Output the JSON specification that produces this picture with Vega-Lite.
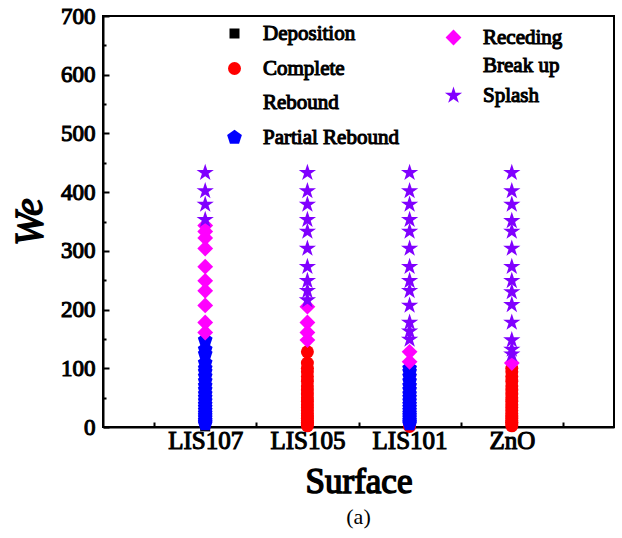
{
  "$schema": "https://vega.github.io/schema/vega-lite/v6.json",
  "width": 511,
  "height": 411,
  "autosize": {"type": "none"},
  "padding": {"left": 103, "top": 16, "right": 8, "bottom": 111},
  "background": "white",
  "title": {"text": "(a)", "orient": "bottom", "font": "Liberation Serif", "fontSize": 22, "fontWeight": "normal", "color": "black", "offset": 8, "anchor": "middle"},
  "data": {"values": [
    {"Surface": "LIS107", "Regime": "Deposition", "We": 1},
    {"Surface": "LIS105", "Regime": "Complete Rebound", "We": 128},
    {"Surface": "LIS105", "Regime": "Complete Rebound", "We": 109},
    {"Surface": "LIS105", "Regime": "Complete Rebound", "We": 100},
    {"Surface": "LIS105", "Regime": "Complete Rebound", "We": 94},
    {"Surface": "LIS105", "Regime": "Complete Rebound", "We": 86},
    {"Surface": "LIS105", "Regime": "Complete Rebound", "We": 78},
    {"Surface": "LIS105", "Regime": "Complete Rebound", "We": 70},
    {"Surface": "LIS105", "Regime": "Complete Rebound", "We": 63},
    {"Surface": "LIS105", "Regime": "Complete Rebound", "We": 56},
    {"Surface": "LIS105", "Regime": "Complete Rebound", "We": 50},
    {"Surface": "LIS105", "Regime": "Complete Rebound", "We": 44},
    {"Surface": "LIS105", "Regime": "Complete Rebound", "We": 38},
    {"Surface": "LIS105", "Regime": "Complete Rebound", "We": 33},
    {"Surface": "LIS105", "Regime": "Complete Rebound", "We": 28},
    {"Surface": "LIS105", "Regime": "Complete Rebound", "We": 23},
    {"Surface": "LIS105", "Regime": "Complete Rebound", "We": 19},
    {"Surface": "LIS105", "Regime": "Complete Rebound", "We": 15},
    {"Surface": "LIS105", "Regime": "Complete Rebound", "We": 11},
    {"Surface": "LIS105", "Regime": "Complete Rebound", "We": 8},
    {"Surface": "LIS105", "Regime": "Complete Rebound", "We": 5},
    {"Surface": "LIS105", "Regime": "Complete Rebound", "We": 2},
    {"Surface": "LIS101", "Regime": "Complete Rebound", "We": 1},
    {"Surface": "ZnO", "Regime": "Complete Rebound", "We": 100},
    {"Surface": "ZnO", "Regime": "Complete Rebound", "We": 94},
    {"Surface": "ZnO", "Regime": "Complete Rebound", "We": 86},
    {"Surface": "ZnO", "Regime": "Complete Rebound", "We": 78},
    {"Surface": "ZnO", "Regime": "Complete Rebound", "We": 70},
    {"Surface": "ZnO", "Regime": "Complete Rebound", "We": 63},
    {"Surface": "ZnO", "Regime": "Complete Rebound", "We": 56},
    {"Surface": "ZnO", "Regime": "Complete Rebound", "We": 50},
    {"Surface": "ZnO", "Regime": "Complete Rebound", "We": 44},
    {"Surface": "ZnO", "Regime": "Complete Rebound", "We": 38},
    {"Surface": "ZnO", "Regime": "Complete Rebound", "We": 33},
    {"Surface": "ZnO", "Regime": "Complete Rebound", "We": 28},
    {"Surface": "ZnO", "Regime": "Complete Rebound", "We": 23},
    {"Surface": "ZnO", "Regime": "Complete Rebound", "We": 19},
    {"Surface": "ZnO", "Regime": "Complete Rebound", "We": 15},
    {"Surface": "ZnO", "Regime": "Complete Rebound", "We": 11},
    {"Surface": "ZnO", "Regime": "Complete Rebound", "We": 8},
    {"Surface": "ZnO", "Regime": "Complete Rebound", "We": 5},
    {"Surface": "ZnO", "Regime": "Complete Rebound", "We": 2},
    {"Surface": "LIS107", "Regime": "Partial Rebound", "We": 148},
    {"Surface": "LIS107", "Regime": "Partial Rebound", "We": 132},
    {"Surface": "LIS107", "Regime": "Partial Rebound", "We": 124},
    {"Surface": "LIS107", "Regime": "Partial Rebound", "We": 109},
    {"Surface": "LIS107", "Regime": "Partial Rebound", "We": 100},
    {"Surface": "LIS107", "Regime": "Partial Rebound", "We": 94},
    {"Surface": "LIS107", "Regime": "Partial Rebound", "We": 86},
    {"Surface": "LIS107", "Regime": "Partial Rebound", "We": 78},
    {"Surface": "LIS107", "Regime": "Partial Rebound", "We": 70},
    {"Surface": "LIS107", "Regime": "Partial Rebound", "We": 63},
    {"Surface": "LIS107", "Regime": "Partial Rebound", "We": 56},
    {"Surface": "LIS107", "Regime": "Partial Rebound", "We": 50},
    {"Surface": "LIS107", "Regime": "Partial Rebound", "We": 44},
    {"Surface": "LIS107", "Regime": "Partial Rebound", "We": 38},
    {"Surface": "LIS107", "Regime": "Partial Rebound", "We": 33},
    {"Surface": "LIS107", "Regime": "Partial Rebound", "We": 28},
    {"Surface": "LIS107", "Regime": "Partial Rebound", "We": 23},
    {"Surface": "LIS107", "Regime": "Partial Rebound", "We": 19},
    {"Surface": "LIS107", "Regime": "Partial Rebound", "We": 15},
    {"Surface": "LIS107", "Regime": "Partial Rebound", "We": 11},
    {"Surface": "LIS107", "Regime": "Partial Rebound", "We": 8},
    {"Surface": "LIS107", "Regime": "Partial Rebound", "We": 5},
    {"Surface": "LIS101", "Regime": "Partial Rebound", "We": 100},
    {"Surface": "LIS101", "Regime": "Partial Rebound", "We": 94},
    {"Surface": "LIS101", "Regime": "Partial Rebound", "We": 86},
    {"Surface": "LIS101", "Regime": "Partial Rebound", "We": 78},
    {"Surface": "LIS101", "Regime": "Partial Rebound", "We": 70},
    {"Surface": "LIS101", "Regime": "Partial Rebound", "We": 63},
    {"Surface": "LIS101", "Regime": "Partial Rebound", "We": 56},
    {"Surface": "LIS101", "Regime": "Partial Rebound", "We": 50},
    {"Surface": "LIS101", "Regime": "Partial Rebound", "We": 44},
    {"Surface": "LIS101", "Regime": "Partial Rebound", "We": 38},
    {"Surface": "LIS101", "Regime": "Partial Rebound", "We": 33},
    {"Surface": "LIS101", "Regime": "Partial Rebound", "We": 28},
    {"Surface": "LIS101", "Regime": "Partial Rebound", "We": 23},
    {"Surface": "LIS101", "Regime": "Partial Rebound", "We": 19},
    {"Surface": "LIS101", "Regime": "Partial Rebound", "We": 15},
    {"Surface": "LIS101", "Regime": "Partial Rebound", "We": 11},
    {"Surface": "LIS101", "Regime": "Partial Rebound", "We": 8},
    {"Surface": "LIS101", "Regime": "Partial Rebound", "We": 5},
    {"Surface": "LIS107", "Regime": "Receding Break up", "We": 343},
    {"Surface": "LIS107", "Regime": "Receding Break up", "We": 333},
    {"Surface": "LIS107", "Regime": "Receding Break up", "We": 322},
    {"Surface": "LIS107", "Regime": "Receding Break up", "We": 304},
    {"Surface": "LIS107", "Regime": "Receding Break up", "We": 273},
    {"Surface": "LIS107", "Regime": "Receding Break up", "We": 249},
    {"Surface": "LIS107", "Regime": "Receding Break up", "We": 232},
    {"Surface": "LIS107", "Regime": "Receding Break up", "We": 207},
    {"Surface": "LIS107", "Regime": "Receding Break up", "We": 178},
    {"Surface": "LIS107", "Regime": "Receding Break up", "We": 161},
    {"Surface": "LIS105", "Regime": "Receding Break up", "We": 205},
    {"Surface": "LIS105", "Regime": "Receding Break up", "We": 178},
    {"Surface": "LIS105", "Regime": "Receding Break up", "We": 161},
    {"Surface": "LIS105", "Regime": "Receding Break up", "We": 148},
    {"Surface": "LIS101", "Regime": "Receding Break up", "We": 128},
    {"Surface": "LIS101", "Regime": "Receding Break up", "We": 111},
    {"Surface": "ZnO", "Regime": "Receding Break up", "We": 109},
    {"Surface": "LIS107", "Regime": "Splash", "We": 433},
    {"Surface": "LIS107", "Regime": "Splash", "We": 402},
    {"Surface": "LIS107", "Regime": "Splash", "We": 379},
    {"Surface": "LIS107", "Regime": "Splash", "We": 353},
    {"Surface": "LIS105", "Regime": "Splash", "We": 433},
    {"Surface": "LIS105", "Regime": "Splash", "We": 402},
    {"Surface": "LIS105", "Regime": "Splash", "We": 379},
    {"Surface": "LIS105", "Regime": "Splash", "We": 353},
    {"Surface": "LIS105", "Regime": "Splash", "We": 333},
    {"Surface": "LIS105", "Regime": "Splash", "We": 304},
    {"Surface": "LIS105", "Regime": "Splash", "We": 273},
    {"Surface": "LIS105", "Regime": "Splash", "We": 249},
    {"Surface": "LIS105", "Regime": "Splash", "We": 232},
    {"Surface": "LIS105", "Regime": "Splash", "We": 216},
    {"Surface": "LIS101", "Regime": "Splash", "We": 433},
    {"Surface": "LIS101", "Regime": "Splash", "We": 402},
    {"Surface": "LIS101", "Regime": "Splash", "We": 379},
    {"Surface": "LIS101", "Regime": "Splash", "We": 353},
    {"Surface": "LIS101", "Regime": "Splash", "We": 333},
    {"Surface": "LIS101", "Regime": "Splash", "We": 304},
    {"Surface": "LIS101", "Regime": "Splash", "We": 273},
    {"Surface": "LIS101", "Regime": "Splash", "We": 249},
    {"Surface": "LIS101", "Regime": "Splash", "We": 232},
    {"Surface": "LIS101", "Regime": "Splash", "We": 207},
    {"Surface": "LIS101", "Regime": "Splash", "We": 178},
    {"Surface": "LIS101", "Regime": "Splash", "We": 163},
    {"Surface": "LIS101", "Regime": "Splash", "We": 149},
    {"Surface": "ZnO", "Regime": "Splash", "We": 433},
    {"Surface": "ZnO", "Regime": "Splash", "We": 402},
    {"Surface": "ZnO", "Regime": "Splash", "We": 379},
    {"Surface": "ZnO", "Regime": "Splash", "We": 351},
    {"Surface": "ZnO", "Regime": "Splash", "We": 333},
    {"Surface": "ZnO", "Regime": "Splash", "We": 304},
    {"Surface": "ZnO", "Regime": "Splash", "We": 273},
    {"Surface": "ZnO", "Regime": "Splash", "We": 249},
    {"Surface": "ZnO", "Regime": "Splash", "We": 230},
    {"Surface": "ZnO", "Regime": "Splash", "We": 208},
    {"Surface": "ZnO", "Regime": "Splash", "We": 178},
    {"Surface": "ZnO", "Regime": "Splash", "We": 148},
    {"Surface": "ZnO", "Regime": "Splash", "We": 132},
    {"Surface": "ZnO", "Regime": "Splash", "We": 124}
  ]},
  "encoding": {
    "x": {
      "field": "Surface", "type": "nominal", "sort": null,
      "scale": {"type": "band", "domain": ["LIS107", "LIS105", "LIS101", "ZnO"], "paddingInner": 0, "paddingOuter": 0.5},
      "axis": {
        "title": "Surface", "titleFont": "Liberation Serif", "titleFontSize": 35, "titleFontWeight": "normal", "titleColor": "black", "titlePadding": 11,
        "labelFont": "Liberation Serif", "labelFontSize": 25, "labelFontWeight": "normal", "labelColor": "black", "labelAngle": 0, "labelPadding": 6,
        "tickBand": "extent", "tickSize": -5, "tickWidth": 2, "tickColor": "black",
        "domainColor": "black", "domainWidth": 2, "grid": false
      }
    },
    "y": {
      "field": "We", "type": "quantitative",
      "scale": {"domain": [0, 700], "nice": false},
      "axis": {
        "title": "We", "titleFont": "Liberation Serif", "titleFontSize": 40, "titleFontWeight": "normal", "titleFontStyle": "italic", "titleColor": "black", "titlePadding": 11,
        "values": [0, 50, 100, 150, 200, 250, 300, 350, 400, 450, 500, 550, 600, 650, 700],
        "labelExpr": "datum.value % 100 === 0 ? datum.label : ''",
        "labelFont": "Liberation Serif", "labelFontSize": 23, "labelFontWeight": "normal", "labelColor": "black", "labelPadding": 14,
        "labelOverlap": false, "labelFlush": false, "labelBound": false,
        "tickSize": {"condition": {"test": "datum.value % 100 === 0", "value": -6}, "value": -3},
        "tickWidth": 2, "tickColor": "black",
        "domainColor": "black", "domainWidth": 2, "grid": false
      }
    }
  },
  "layer": [
    {
      "transform": [{"filter": "indexof(['Deposition', 'Complete Rebound', 'Partial Rebound'], datum.Regime) >= 0"}],
      "mark": {"type": "point", "filled": true, "opacity": 1, "strokeWidth": 0},
      "encoding": {
        "color": {
          "field": "Regime", "type": "nominal",
          "scale": {"domain": ["Deposition", "Complete Rebound", "Partial Rebound"], "range": ["#000000", "#ff0000", "#0000ff"]},
          "legend": {
            "title": null, "orient": "none", "legendX": 121, "legendY": 7, "direction": "vertical", "rowPadding": 13,
            "labelFont": "Liberation Serif", "labelFontSize": 21, "labelFontWeight": "normal", "labelColor": "black", "labelOffset": 18, "labelLimit": 300,
            "labelExpr": "datum.label == 'Complete Rebound' ? ['Complete', '\u00a0Rebound'] : datum.label",
            "symbolStrokeWidth": 0, "symbolOpacity": 1, "padding": 0,
            "encode": {"labels": {"update": {"lineHeight": {"value": 34}}}}
          }
        },
        "shape": {
          "field": "Regime", "type": "nominal",
          "scale": {"domain": ["Deposition", "Complete Rebound", "Partial Rebound"], "range": ["square", "circle", "M0,-1L0.951,-0.309L0.588,0.809L-0.588,0.809L-0.951,-0.309Z"]}
        },
        "size": {
          "field": "Regime", "type": "ordinal",
          "scale": {"type": "ordinal", "domain": ["Deposition", "Complete Rebound", "Partial Rebound"], "range": [100, 169, 240]}
        }
      }
    },
    {
      "transform": [{"filter": "indexof(['Receding Break up', 'Splash'], datum.Regime) >= 0"}],
      "mark": {"type": "point", "filled": true, "opacity": 1, "strokeWidth": 0},
      "encoding": {
        "color": {
          "field": "Regime", "type": "nominal",
          "scale": {"domain": ["Receding Break up", "Splash"], "range": ["#ff00ff", "#8000ff"]},
          "legend": {
            "title": null, "orient": "none", "legendX": 340, "legendY": 11, "direction": "vertical", "rowPadding": 8,
            "labelFont": "Liberation Serif", "labelFontSize": 21, "labelFontWeight": "normal", "labelColor": "black", "labelOffset": 19, "labelLimit": 300,
            "labelExpr": "datum.label == 'Receding Break up' ? ['Receding', '\u00a0Break up'] : datum.label",
            "symbolStrokeWidth": 0, "symbolOpacity": 1, "padding": 0,
            "encode": {"labels": {"update": {"lineHeight": {"value": 28}}}}
          }
        },
        "shape": {
          "field": "Regime", "type": "nominal",
          "scale": {"domain": ["Receding Break up", "Splash"], "range": ["diamond", "M0,-1L0.2245,-0.309L0.951,-0.309L0.363,0.118L0.588,0.809L0,0.382L-0.588,0.809L-0.363,0.118L-0.951,-0.309L-0.2245,-0.309Z"]}
        },
        "size": {
          "field": "Regime", "type": "ordinal",
          "scale": {"type": "ordinal", "domain": ["Receding Break up", "Splash"], "range": [250, 330]}
        }
      }
    }
  ],
  "resolve": {"scale": {"color": "independent", "shape": "independent", "size": "independent"}},
  "config": {
    "view": {"stroke": "black", "strokeWidth": 2},
    "style": {
      "guide-label": {"stroke": "black", "strokeWidth": 1.1},
      "guide-title": {"stroke": "black", "strokeWidth": 1.5}
    }
  }
}
